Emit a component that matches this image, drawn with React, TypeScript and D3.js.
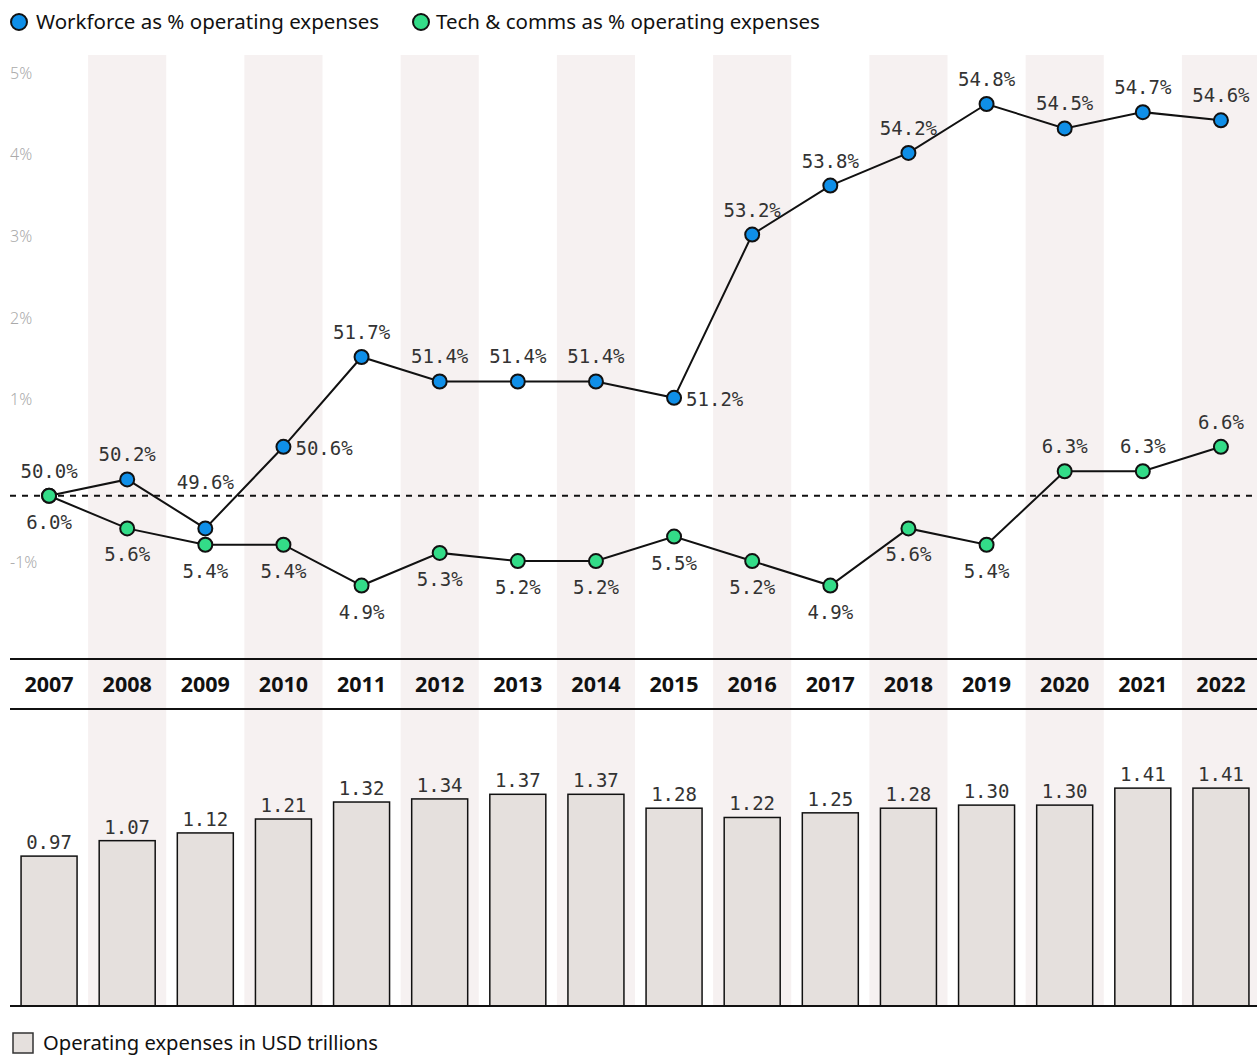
import React from "react";
import * as d3 from "d3";

const years = ["2007","2008","2009","2010","2011","2012","2013","2014","2015","2016","2017","2018","2019","2020","2021","2022"];
const workforce = [50.0, 50.2, 49.6, 50.6, 51.7, 51.4, 51.4, 51.4, 51.2, 53.2, 53.8, 54.2, 54.8, 54.5, 54.7, 54.6];
const tech = [6.0, 5.6, 5.4, 5.4, 4.9, 5.3, 5.2, 5.2, 5.5, 5.2, 4.9, 5.6, 5.4, 6.3, 6.3, 6.6];
const opex = [0.97, 1.07, 1.12, 1.21, 1.32, 1.34, 1.37, 1.37, 1.28, 1.22, 1.25, 1.28, 1.30, 1.30, 1.41, 1.41];
const yTicks = [5, 4, 3, 2, 1, -1];
const workforceLabelPos = ["top","top","top2","right","top","top","top","top","right","top","top","top","top","top","top","top"];
const techLabelPos = ["bottom","bottom","bottom","bottom","bottom","bottom","bottom","bottom","bottom","bottom","bottom","bottom","bottom","top","top","top"];

const W = 1257;
const H = 1055;
const BLUE = "#0f8fe8";
const GREEN = "#33dc88";
const BAR = "#e5e0dd";
const BAND = "#f6f1f1";
const MONO = "'DejaVu Sans Mono', 'Liberation Mono', monospace";
const SANS = "'Noto Sans', 'Open Sans', sans-serif";

export default function App() {
  const x = d3.scaleBand<string>().domain(years).range([10, 1260]);
  const cx = (i: number) => (x(years[i]) as number) + x.bandwidth() / 2;
  const y = d3.scaleLinear().domain([-2, 5.4]).range([659, 55]);
  const yb = d3.scaleLinear().domain([0, 1.922]).range([1006, 709]);
  const barW = 56;

  const wDiff = workforce.map((v) => v - workforce[0]);
  const tDiff = tech.map((v) => v - tech[0]);
  const line = d3.line<number>().x((_, i) => cx(i)).y((d) => y(d));

  const label = (v: number, i: number, pos: string, key: string) => {
    const px = cx(i);
    let tx = px, ty = 0, anchor: "middle" | "start" = "middle";
    const base = key === "w" ? y(wDiff[i]) : y(tDiff[i]);
    if (pos === "top") ty = base - 25;
    else if (pos === "top2") ty = y(0) - 14;
    else if (pos === "bottom") ty = base + 26;
    else { tx = px + 12; ty = base + 1; anchor = "start"; }
    return (
      <text key={key + i} x={tx} y={ty} textAnchor={anchor} dominantBaseline="central"
        fontFamily={MONO} fontSize={19} fill="#333">{v.toFixed(1)}%</text>
    );
  };

  return (
    <svg width={W} height={H} style={{ position: "absolute", left: 0, top: 0, background: "#fff" }}>
      {years.map((yr, i) => i % 2 === 1 ? (
        <rect key={"band" + yr} x={x(yr)} y={55} width={x.bandwidth()} height={1006 - 55} fill={BAND} />
      ) : null)}

      {/* legend top */}
      <circle cx={19} cy={22} r={8} fill={BLUE} stroke="#111" strokeWidth={2} />
      <text x={36} y={29} fontFamily={SANS} fontSize={20.5} fill="#111">Workforce as % operating expenses</text>
      <circle cx={421} cy={22} r={8} fill={GREEN} stroke="#111" strokeWidth={2} />
      <text x={436} y={29} fontFamily={SANS} fontSize={20.5} fill="#111">Tech &amp; comms as % operating expenses</text>

      {/* y ticks */}
      {yTicks.map((t) => (
        <text key={"yt" + t} x={10} y={y(t) - 9} fontFamily={SANS} fontSize={16} fill="#aaa" fontWeight={300}>{t}%</text>
      ))}

      {/* zero dashed line */}
      <line x1={10} x2={W} y1={y(0)} y2={y(0)} stroke="#111" strokeWidth={2} strokeDasharray="6,6" />

      {/* lines */}
      <path d={line(wDiff) as string} fill="none" stroke="#111" strokeWidth={2} />
      <path d={line(tDiff) as string} fill="none" stroke="#111" strokeWidth={2} />
      {wDiff.map((d, i) => (
        <circle key={"wp" + i} cx={cx(i)} cy={y(d)} r={7} fill={BLUE} stroke="#111" strokeWidth={2} />
      ))}
      {tDiff.map((d, i) => (
        <circle key={"tp" + i} cx={cx(i)} cy={y(d)} r={7} fill={GREEN} stroke="#111" strokeWidth={2} />
      ))}
      {workforce.map((v, i) => label(v, i, workforceLabelPos[i], "w"))}
      {tech.map((v, i) => label(v, i, techLabelPos[i], "t"))}

      {/* year row */}
      <line x1={10} x2={W} y1={659} y2={659} stroke="#111" strokeWidth={2} />
      <line x1={10} x2={W} y1={709} y2={709} stroke="#111" strokeWidth={2} />
      {years.map((yr, i) => (
        <text key={"yr" + yr} x={cx(i)} y={683} textAnchor="middle" dominantBaseline="central"
          fontFamily={SANS} fontWeight={700} fontSize={21.5} fill="#111">{yr}</text>
      ))}

      {/* bars */}
      {opex.map((v, i) => (
        <g key={"bar" + i}>
          <rect x={cx(i) - barW / 2} y={yb(v)} width={barW} height={yb(0) - yb(v)} fill={BAR} stroke="#111" strokeWidth={1.5} />
          <text x={cx(i)} y={yb(v) - 14} textAnchor="middle" dominantBaseline="central"
            fontFamily={MONO} fontSize={19} fill="#333">{v.toFixed(2)}</text>
        </g>
      ))}
      <line x1={10} x2={W} y1={1006} y2={1006} stroke="#111" strokeWidth={2} />

      {/* bottom legend */}
      <rect x={13} y={1033} width={20} height={20} fill={BAR} stroke="#333" strokeWidth={1.5} />
      <text x={43} y={1050} fontFamily={SANS} fontSize={20.2} fill="#111">Operating expenses in USD trillions</text>
    </svg>
  );
}
